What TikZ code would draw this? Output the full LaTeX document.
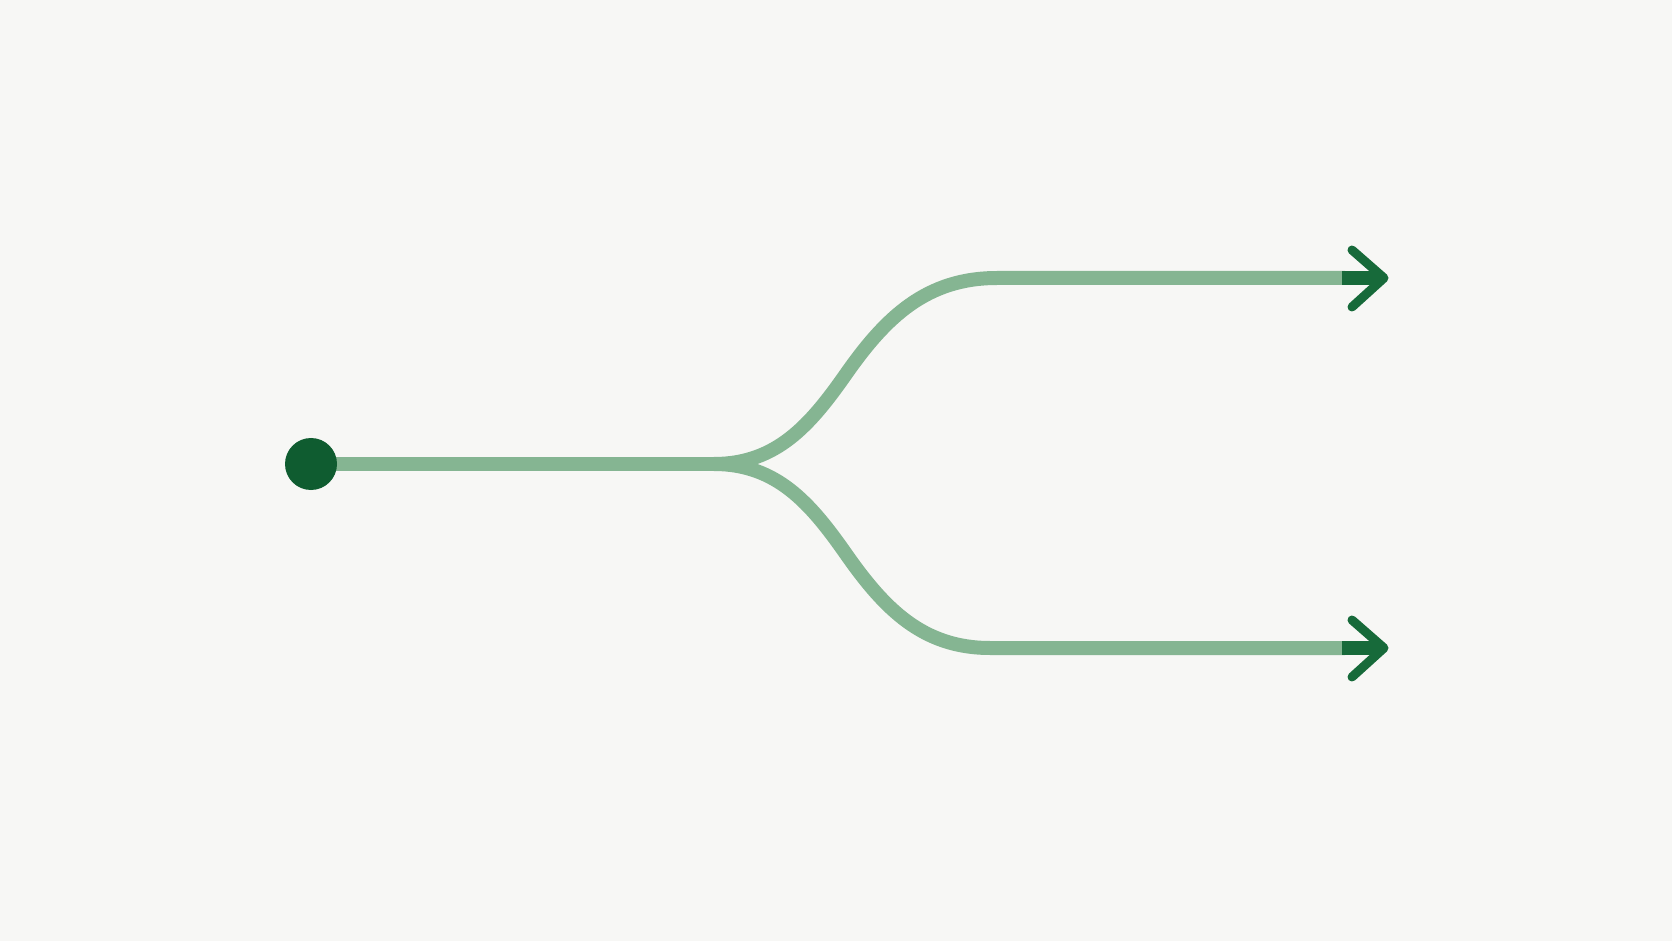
\documentclass[tikz,border=0pt]{standalone}
\usetikzlibrary{positioning}
\definecolor{paper}{HTML}{F7F7F5}
\definecolor{branch}{HTML}{85B592}
\definecolor{leaf}{HTML}{176A3A}
\definecolor{root}{HTML}{0F5C30}
\tikzset{
  path line/.style={line width=7pt, draw=branch},
  tip line/.style={line width=4.5pt, draw=leaf, line cap=round, line join=round},
}
\begin{document}
\begin{tikzpicture}[x=0.5pt, y=-0.5pt]
  \fill[paper] (0,0) rectangle (1672,941);
  \useasboundingbox (0,0) rectangle (1672,941);
  % start point and split
  \coordinate (split) at (714,464);
  \coordinate (upend) at (1384,278);
  \coordinate (downend) at (1384,648);
  \draw[path line] (311,464) -- (split);
  \draw[path line] (split) to[out=0, in=235] (846,374) to[out=55, in=180] (997,278) -- (1345,278);
  \draw[path line] (split) to[out=0, in=125] (846,554) to[out=-55, in=180] (990,648) -- (1345,648);
  % arrow heads
  \draw[line width=7pt, draw=leaf] (1342,278) -- ([xshift=-2pt]upend);
  \draw[line width=7pt, draw=leaf] (1342,648) -- ([xshift=-2pt]downend);
  \draw[tip line] (1352,250) -- (upend) -- (1352,307);
  \draw[tip line] (1352,620) -- (downend) -- (1352,677);
  \node[circle, fill=root, minimum size=26pt, inner sep=0pt] (start) at (311,464) {};
\end{tikzpicture}
\end{document}
